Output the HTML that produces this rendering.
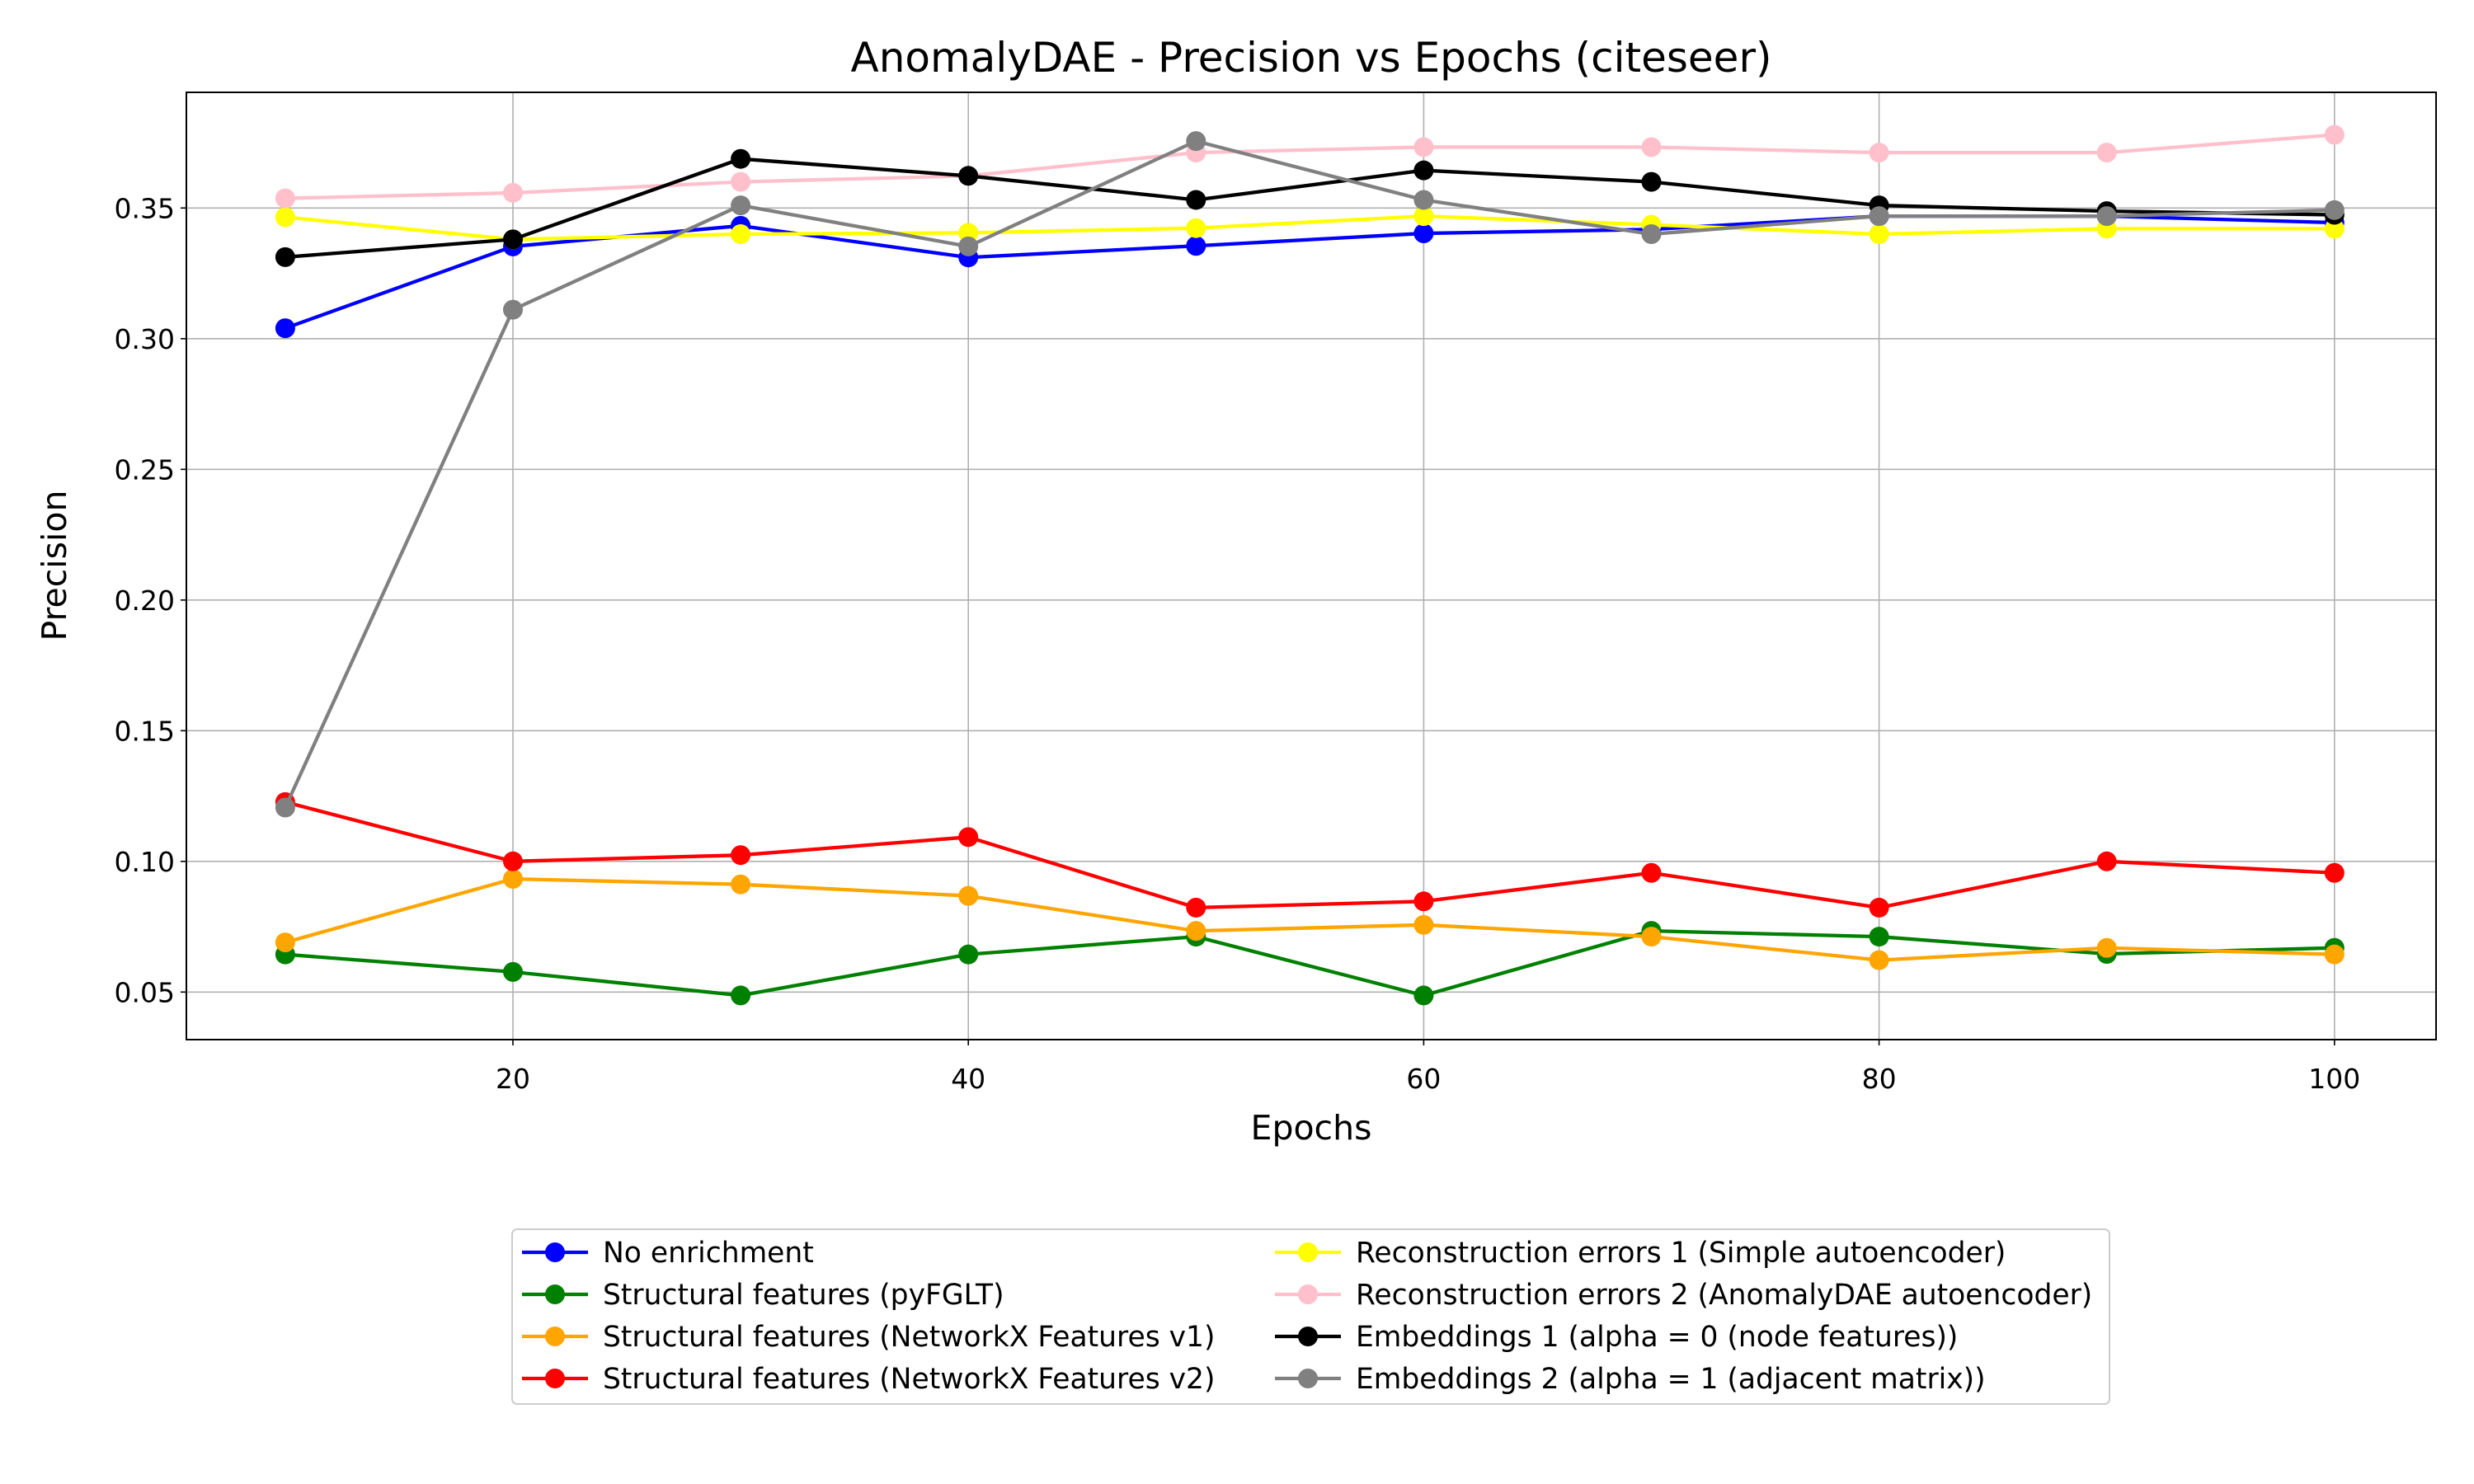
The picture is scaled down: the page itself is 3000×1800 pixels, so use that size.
<!DOCTYPE html>
<html><head><meta charset="utf-8"><style>body{margin:0;background:#fff}svg{display:block}text{font-family:"DejaVu Sans","Liberation Sans",sans-serif;fill:#000}</style></head>
<body>
<svg id="chart" width="3000" height="1800" viewBox="0 0 3000 1800" xmlns="http://www.w3.org/2000/svg">
<rect width="3000" height="1800" fill="#fff"/>
<g id="grid"></g><g id="series"></g><g id="axes"></g><g id="legend"></g>
</svg>
<script>
const epochs=[10,20,30,40,50,60,70,80,90,100];
const seriesNames=["No enrichment","Structural features (pyFGLT)","Structural features (NetworkX Features v1)","Structural features (NetworkX Features v2)","Reconstruction errors 1 (Simple autoencoder)","Reconstruction errors 2 (AnomalyDAE autoencoder)","Embeddings 1 (alpha = 0 (node features))","Embeddings 2 (alpha = 1 (adjacent matrix))"];
const seriesColors=["blue","green","orange","red","yellow","pink","black","gray"];
const noEnrichment=[0.304,0.3353,0.3432,0.3311,0.3355,0.3403,0.3418,0.3469,0.3469,0.3444];
const pyfglt=[0.0644,0.0577,0.0487,0.0644,0.0712,0.0487,0.0734,0.0712,0.0646,0.0669];
const nxV1=[0.069,0.0933,0.0912,0.0868,0.0734,0.0757,0.0712,0.0622,0.0669,0.0644];
const nxV2=[0.1227,0.100,0.1024,0.1093,0.0823,0.0847,0.0956,0.0823,0.100,0.0956];
const recon1=[0.3465,0.338,0.340,0.3405,0.3423,0.3469,0.3436,0.340,0.3421,0.3421];
const recon2=[0.3537,0.3558,0.360,0.3623,0.3712,0.3733,0.3733,0.3712,0.3712,0.378];
const emb1=[0.3312,0.338,0.3688,0.3623,0.3531,0.3644,0.360,0.351,0.3488,0.3474];
const emb2=[0.1206,0.3111,0.351,0.3353,0.3756,0.3531,0.340,0.3469,0.3469,0.3492];
const xTicks=[20,40,60,80,100];
const yTicks=[0.05,0.10,0.15,0.20,0.25,0.30,0.35];
const allSeries=[noEnrichment,pyfglt,nxV1,nxV2,recon1,recon2,emb1,emb2];

const NS="http://www.w3.org/2000/svg";
const L=226,R=2954,T=112,B=1261;
const xs=v=>622+(v-20)*27.61;
const ys=v=>252.3+(0.35-v)/0.05*158.5;
function mk(tag,attrs,parent,txt){const e=document.createElementNS(NS,tag);for(const k in attrs)e.setAttribute(k,attrs[k]);if(txt!==undefined)e.textContent=txt;parent.appendChild(e);return e;}
const grid=document.getElementById('grid'),axes=document.getElementById('axes'),ser=document.getElementById('series'),leg=document.getElementById('legend');
xTicks.forEach(t=>{
 const g=mk('line',{x1:xs(t),x2:xs(t),y1:T,y2:B,stroke:'#b0b0b0','stroke-width':1.6},grid);
 
 
 mk('line',{x1:xs(t),x2:xs(t),y1:B,y2:B+7,stroke:'#000','stroke-width':1.6},axes);
 const l=mk('text',{x:xs(t),y:1320,'font-size':33,'text-anchor':'middle'},axes,String(t));
 
 
});
yTicks.forEach(t=>{
 const g=mk('line',{x1:L,x2:R,y1:ys(t),y2:ys(t),stroke:'#b0b0b0','stroke-width':1.6},grid);
 
 
 mk('line',{x1:L-7,x2:L,y1:ys(t),y2:ys(t),stroke:'#000','stroke-width':1.6},axes);
 const l=mk('text',{x:L-14,y:ys(t)+12,'font-size':33,'text-anchor':'end'},axes,t.toFixed(2));
 
 
});
const fr=mk('rect',{x:L,y:T,width:R-L,height:B-T,fill:'none',stroke:'#000','stroke-width':2},axes);


const ti=mk('text',{x:(L+R)/2,y:87,'font-size':50,'text-anchor':'middle'},axes,'AnomalyDAE - Precision vs Epochs (citeseer)');


const xt=mk('text',{x:(L+R)/2,y:1382,'font-size':41,'text-anchor':'middle'},axes,'Epochs');


const yt=mk('text',{x:0,y:0,'font-size':41,'text-anchor':'middle',transform:'translate(80,686) rotate(-90)'},axes,'Precision');



allSeries.forEach((vals,i)=>{
 const g=mk('g',{},ser);
 
 
 const pts=vals.map((v,j)=>xs(epochs[j])+','+ys(v)).join(' ');
 mk('polyline',{points:pts,fill:'none',stroke:seriesColors[i],'stroke-width':4.3,'stroke-linejoin':'round'},g);
 vals.forEach((v,j)=>{
  const c=mk('circle',{cx:xs(epochs[j]),cy:ys(v),r:12,fill:seriesColors[i]},g);
  
  
 });
});

const lb=mk('rect',{x:621,y:1491,width:1937,height:212,rx:6,fill:'#fff',stroke:'#ccc','stroke-width':2},leg);


const rowY=[1519,1570,1621,1672];
seriesNames.forEach((n,i)=>{
 const col=i<4?0:1,row=i%4;
 const x0=col?1546:633,y=rowY[row];
 const g=mk('g',{},leg);
 
 
 mk('line',{x1:x0,x2:x0+80,y1:y,y2:y,stroke:seriesColors[i],'stroke-width':4.3},g);
 mk('circle',{cx:x0+40,cy:y,r:12,fill:seriesColors[i]},g);
 mk('text',{x:x0+98,y:y+12,'font-size':34.5},g,n);
});
</script>
</body></html>
